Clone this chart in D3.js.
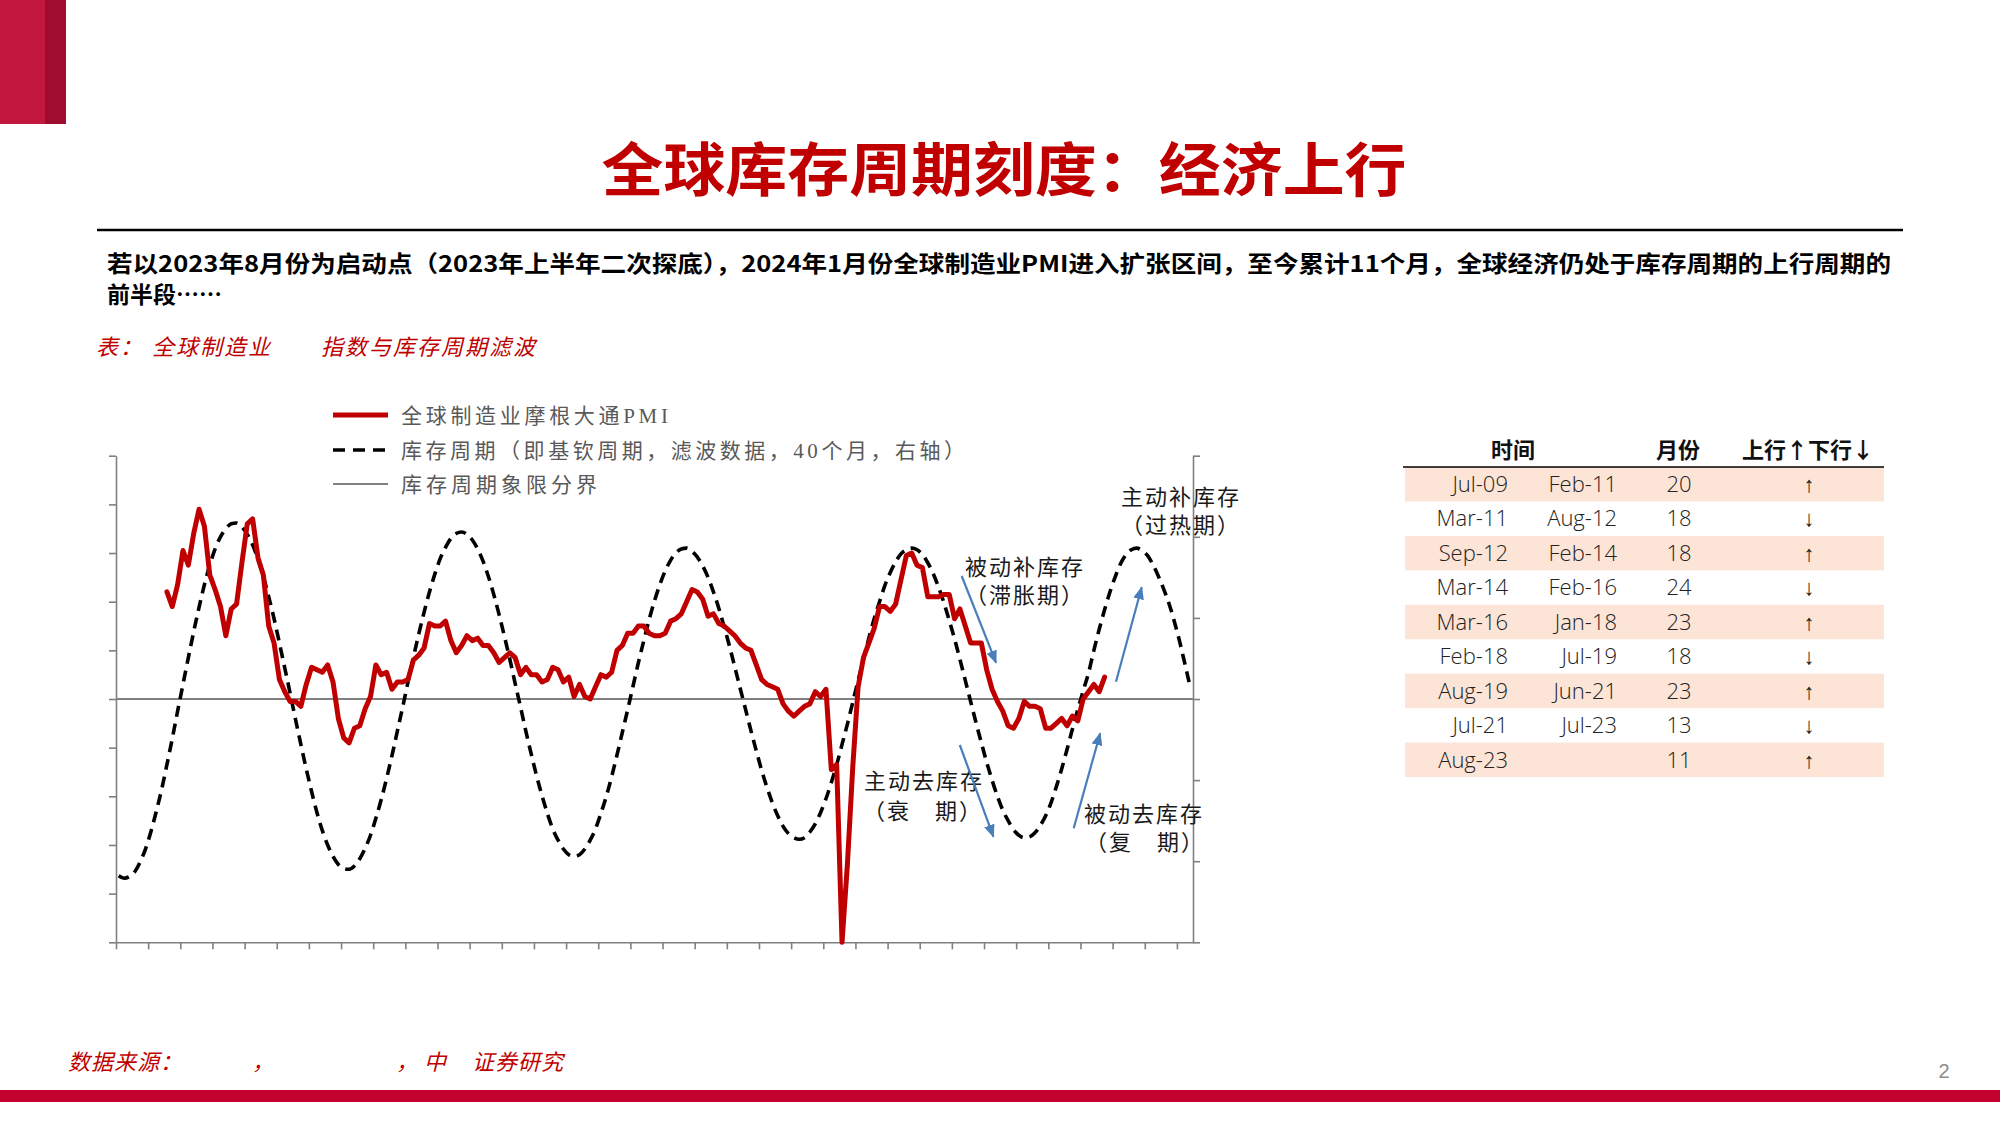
<!DOCTYPE html>
<html><head><meta charset="utf-8">
<script src="https://cdn.jsdelivr.net/npm/d3@7"></script>
<style>body{margin:0;background:#fff;} svg{display:block;}</style>
</head><body>
<svg id="chart" width="2000" height="1125"></svg>
<script>
// ---------------- DATA ----------------
// category axis: monthly, Jan 2009 .. Sep 2025
const firstMonth = new Date(2009, 0, 1);
const lastMonth = new Date(2025, 8, 1);
const months = d3.timeMonth.range(firstMonth, d3.timeMonth.offset(lastMonth, 1));

// J.P. Morgan Global Manufacturing PMI (left axis), monthly from Oct 2009
const pmiStart = new Date(2009, 9, 1);
const pmiValues = [
  54.4, 53.8, 54.7,
  56.1, 55.5, 56.8, 57.8, 57.1, 55.1, 54.5, 53.8, 52.6, 53.7, 53.9, 55.6,
  57.2, 57.4, 55.8, 55.1, 53.0, 52.3, 50.8, 50.3, 49.9, 49.9, 49.7, 50.6,
  51.3, 51.2, 51.1, 51.4, 50.7, 49.2, 48.4, 48.2, 48.8, 48.9, 49.6, 50.1,
  51.4, 51.0, 51.1, 50.4, 50.7, 50.7, 50.8, 51.6, 51.8, 52.1, 53.1, 53.0,
  53.0, 53.2, 52.4, 51.9, 52.2, 52.6, 52.4, 52.5, 52.2, 52.2, 51.9, 51.5,
  51.7, 51.9, 51.7, 51.0, 51.3, 51.0, 51.0, 50.7, 50.8, 51.3, 51.2, 50.7,
  50.9, 50.1, 50.6, 50.1, 50.0, 50.5, 51.0, 50.9, 51.1, 52.0, 52.2, 52.7,
  52.7, 53.0, 53.0, 52.7, 52.6, 52.6, 52.7, 53.2, 53.3, 53.5, 54.0, 54.5,
  54.4, 54.1, 53.4, 53.5, 53.1, 53.0, 52.8, 52.6, 52.3, 52.1, 52.0, 51.4,
  50.8, 50.6, 50.5, 50.4, 49.8, 49.5, 49.3, 49.5, 49.7, 49.8, 50.3, 50.1,
  50.4, 47.1, 47.3, 40.0, 43.2, 47.2, 50.5, 51.7, 52.3, 52.9, 53.8, 53.8,
  53.6, 53.9, 54.9, 55.9, 56.0, 55.5, 55.4, 54.2, 54.2, 54.2, 54.3, 54.3,
  53.3, 53.7, 53.0, 52.3, 52.3, 52.3, 51.2, 50.4, 49.9, 49.5, 48.9, 48.8,
  49.2, 49.9, 49.7, 49.7, 49.6, 48.8, 48.8, 49.0, 49.2, 48.9, 49.3, 49.1,
  50.0, 50.3, 50.6, 50.3, 50.9
];

// Inventory cycle (filtered, 40 months, right axis), monthly from Jan 2009
const cycleValues = [
  -2.18, -2.21, -2.19, -2.13, -2.01, -1.85, -1.64, -1.39, -1.12, -0.81, -0.49, -0.15,
   0.18,  0.51,  0.83,  1.13,  1.41,  1.65,  1.85,  2.00,  2.10,  2.16,  2.17,  2.12,
   2.03,  1.90,  1.72,  1.51,  1.26,  0.99,  0.69,  0.38,  0.07, -0.25, -0.56, -0.86,
  -1.14, -1.40, -1.62, -1.80, -1.94, -2.04, -2.09, -2.10, -2.06, -1.97, -1.84, -1.68,
  -1.47, -1.24, -0.98, -0.70, -0.40, -0.10,  0.21,  0.51,  0.80,  1.07,  1.32,  1.54,
   1.73,  1.87,  1.98,  2.04,  2.06,  2.03,  1.96,  1.85,  1.70,  1.51,  1.29,  1.04,
   0.77,  0.49,  0.19, -0.10, -0.40, -0.68, -0.95, -1.19, -1.41, -1.60, -1.74, -1.85,
  -1.92, -1.94, -1.92, -1.85, -1.74, -1.60, -1.41, -1.20, -0.96, -0.69, -0.41, -0.13,
   0.16,  0.45,  0.72,  0.98,  1.21,  1.41,  1.58,  1.71,  1.80,  1.85,  1.86,  1.82,
   1.75,  1.64,  1.50,  1.32,  1.12,  0.89,  0.65,  0.39,  0.13, -0.13, -0.39, -0.64,
  -0.88, -1.09, -1.28, -1.44, -1.57, -1.66, -1.71, -1.73, -1.71, -1.64, -1.54, -1.40,
  -1.23, -1.03, -0.81, -0.56, -0.31, -0.04,  0.23,  0.49,  0.75,  0.99,  1.20,  1.40,
   1.56,  1.69,  1.79,  1.84,  1.86,  1.84,  1.78,  1.68,  1.55,  1.38,  1.19,  0.97,
   0.74,  0.49,  0.23, -0.03, -0.29, -0.54, -0.78, -1.00, -1.20, -1.37, -1.50, -1.61,
  -1.68, -1.71, -1.70, -1.65, -1.56, -1.44, -1.28, -1.08, -0.86, -0.62, -0.37, -0.13,
   0.10,  0.32,  0.60,  0.86,  1.10,  1.32,  1.51,  1.67,  1.78,  1.84,  1.86,  1.83,
   1.77,  1.66,  1.52,  1.36,  1.18,  0.96,  0.71,  0.43,  0.14
];

// left / right axis tick values
const leftTicks = d3.range(40, 61, 2);
const rightTicks = d3.range(-3, 4, 1);

// table of cycle phases
const phaseStart = ["Jul-09","Mar-11","Sep-12","Mar-14","Mar-16","Feb-18","Aug-19","Jul-21","Aug-23"];
const phaseEnd   = ["Feb-11","Aug-12","Feb-14","Feb-16","Jan-18","Jul-19","Jun-21","Jul-23",""];
const phaseMonths = [20, 18, 18, 24, 23, 18, 23, 13, 11];
const phaseDir   = ["↑","↓","↑","↓","↑","↓","↑","↓","↑"];
const tableHeader = ["时间", "月份", "上行↑下行↓"];

const legendLabels = ["全球制造业摩根大通PMI", "库存周期（即基钦周期，滤波数据，40个月，右轴）", "库存周期象限分界"];

// ---------------- DRAW ----------------
const svg = d3.select("#chart");
const CJK = '"Noto Sans CJK SC", sans-serif';
const SERIF = '"Liberation Serif", "Noto Sans CJK SC", serif';
const RED = "#C00000";

svg.append("rect").attr("width", 2000).attr("height", 1125).attr("fill", "#fff");

// top-left block
svg.append("rect").attr("x", 0).attr("y", 0).attr("width", 45).attr("height", 124).attr("fill", "#C2173F");
svg.append("rect").attr("x", 45).attr("y", 0).attr("width", 21).attr("height", 124).attr("fill", "#9F0D2E");

// title
svg.append("text").attr("x", 1004).attr("y", 191).attr("text-anchor", "middle")
  .attr("font-family", CJK).attr("font-weight", 700).attr("font-size", 58)
  .attr("fill", RED).attr("textLength", 805).attr("lengthAdjust", "spacingAndGlyphs")
  .text("全球库存周期刻度：经济上行");

svg.append("line").attr("x1", 97).attr("x2", 1903).attr("y1", 230).attr("y2", 230)
  .attr("stroke", "#000").attr("stroke-width", 2.5);

// body text
svg.append("text").attr("x", 107).attr("y", 272).attr("font-family", CJK).attr("font-weight", 700)
  .attr("font-size", 23).attr("fill", "#000").attr("textLength", 1784).attr("lengthAdjust", "spacingAndGlyphs")
  .text("若以2023年8月份为启动点（2023年上半年二次探底），2024年1月份全球制造业PMI进入扩张区间，至今累计11个月，全球经济仍处于库存周期的上行周期的");
svg.append("text").attr("x", 107).attr("y", 303).attr("font-family", CJK).attr("font-weight", 700)
  .attr("font-size", 23).attr("fill", "#000").text("前半段……");

// subtitle (red italic)
const sub = svg.append("text").attr("y", 355).attr("font-family", CJK).attr("font-style", "italic")
  .attr("font-size", 22).attr("fill", RED).attr("letter-spacing", 2);
sub.append("tspan").attr("x", 96).text("表：");
sub.append("tspan").attr("x", 152).text("全球制造业");
sub.append("tspan").attr("x", 321).text("指数与库存周期滤波");

// ---------- chart ----------
const x = d3.scaleBand().domain(months.map(d => +d)).range([116, 1193]).paddingInner(0).paddingOuter(0);
const xc = d => x(+d) + x.bandwidth() / 2;
const xTick = d3.scaleLinear().domain([0, months.length]).range([116, 1193]);
const yL = d3.scaleLinear().domain([40, 60]).range([942.3, 455.7]);
const yR = d3.scaleLinear().domain([-3, 3]).range([942.3, 455.7]);

const styleAxis = g => {
  g.selectAll("path, line").attr("stroke", "#808080").attr("stroke-width", 1.6);
};
svg.append("g").attr("transform", "translate(0,942.3)")
  .call(d3.axisBottom(xTick).tickValues(d3.range(0, months.length, 6)).tickSize(7).tickSizeOuter(0).tickFormat(""))
  .call(styleAxis);
svg.append("g").attr("transform", "translate(116,0)")
  .call(d3.axisLeft(yL).tickValues(leftTicks).tickSize(7).tickSizeOuter(0).tickFormat(""))
  .call(styleAxis);
svg.append("g").attr("transform", "translate(1193,0)")
  .call(d3.axisRight(yR).tickValues(rightTicks).tickSize(7).tickSizeOuter(0).tickFormat(""))
  .call(styleAxis);

// quadrant boundary (zero line of cycle)
svg.append("line").attr("x1", 116).attr("x2", 1193).attr("y1", yR(0)).attr("y2", yR(0))
  .attr("stroke", "#808080").attr("stroke-width", 2.2);

// cycle dashed line
const cycleData = cycleValues.map((v, k) => ({ date: months[k], v }));
svg.append("path").datum(cycleData)
  .attr("d", d3.line().x(d => xc(d.date)).y(d => yR(d.v)).curve(d3.curveMonotoneX))
  .attr("fill", "none").attr("stroke", "#000").attr("stroke-width", 3.6)
  .attr("stroke-dasharray", "11,7");

// PMI line
const pmiData = pmiValues.map((v, k) => ({ date: d3.timeMonth.offset(pmiStart, k), v }));
svg.append("path").datum(pmiData)
  .attr("d", d3.line().x(d => xc(d.date)).y(d => yL(d.v)))
  .attr("fill", "none").attr("stroke", RED).attr("stroke-width", 5)
  .attr("stroke-linejoin", "round").attr("stroke-linecap", "round");

// legend
const legend = svg.append("g");
const legY = [415, 450, 484];
const legLen = [267, 564, 196];
legend.append("line").attr("x1", 333).attr("x2", 388).attr("y1", legY[0]).attr("y2", legY[0])
  .attr("stroke", RED).attr("stroke-width", 5);
legend.append("line").attr("x1", 333).attr("x2", 390).attr("y1", legY[1]).attr("y2", legY[1])
  .attr("stroke", "#000").attr("stroke-width", 3.6).attr("stroke-dasharray", "12,8");
legend.append("line").attr("x1", 333).attr("x2", 388).attr("y1", legY[2]).attr("y2", legY[2])
  .attr("stroke", "#808080").attr("stroke-width", 2);
legend.selectAll("text.lg").data(legendLabels).join("text").attr("class", "lg")
  .attr("x", 401).attr("y", (d, i) => legY[i] + 8)
  .attr("font-family", SERIF).attr("font-size", 21)
  .attr("textLength", (d, i) => legLen[i]).attr("lengthAdjust", "spacing")
  .attr("fill", "#595959").text(d => d);

// annotations
const notes = [
  { x: 1181, y: 505, t: "主动补库存" }, { x: 1181, y: 533, t: "（过热期）" },
  { x: 1025, y: 575, t: "被动补库存" }, { x: 1025, y: 603, t: "（滞胀期）" },
  { x: 924, y: 789, t: "主动去库存" }, { x: 923, y: 819, t: "（衰　期）" },
  { x: 1144, y: 822, t: "被动去库存" }, { x: 1145, y: 850, t: "（复　期）" }
];
svg.selectAll("text.note").data(notes).join("text").attr("class", "note")
  .attr("x", d => d.x).attr("y", d => d.y).attr("text-anchor", "middle")
  .attr("font-family", SERIF).attr("font-size", 22).attr("letter-spacing", 2)
  .attr("fill", "#1a1a1a").text(d => d.t);

// blue arrows
const defs = svg.append("defs");
defs.append("marker").attr("id", "ah").attr("viewBox", "0 0 12 10").attr("refX", 11).attr("refY", 5)
  .attr("markerUnits", "userSpaceOnUse").attr("markerWidth", 13).attr("markerHeight", 11).attr("orient", "auto")
  .append("path").attr("d", "M0,0 L12,5 L0,10 Z").attr("fill", "#4A7EBB");
const arrows = [
  [961.7, 576, 996, 662.7],
  [1116, 681.7, 1141.7, 587.3],
  [959.8, 745, 993.4, 836.7],
  [1073.7, 828.3, 1100.2, 733.3]
];
svg.selectAll("line.arr").data(arrows).join("line").attr("class", "arr")
  .attr("x1", d => d[0]).attr("y1", d => d[1]).attr("x2", d => d[2]).attr("y2", d => d[3])
  .attr("stroke", "#4A7EBB").attr("stroke-width", 2.2).attr("marker-end", "url(#ah)");

// ---------- table ----------
const tb = svg.append("g");
const rowTop = 467, rowH = 34.45, tX0 = 1405, tX1 = 1884;
phaseStart.forEach((s, i) => {
  if (i % 2 === 0) {
    tb.append("rect").attr("x", tX0).attr("y", rowTop + i * rowH).attr("width", tX1 - tX0).attr("height", rowH)
      .attr("fill", "#FCE4D6");
  }
});
tb.append("line").attr("x1", 1403).attr("x2", tX1).attr("y1", rowTop).attr("y2", rowTop)
  .attr("stroke", "#000").attr("stroke-width", 1.5);
const hdrX = [1513, 1678, 1808];
tb.selectAll("text.hd").data(tableHeader).join("text").attr("class", "hd")
  .attr("x", (d, i) => hdrX[i]).attr("y", 458).attr("text-anchor", "middle")
  .attr("font-family", CJK).attr("font-weight", 700).attr("font-size", 22).attr("fill", "#111")
  .text(d => d);
const cellFont = '"Open Sans", "Noto Sans", sans-serif';
const rowBase = i => rowTop + i * rowH + 25;
tb.selectAll("text.c1").data(phaseStart).join("text").attr("class", "c1")
  .attr("x", 1508).attr("y", (d, i) => rowBase(i)).attr("text-anchor", "end")
  .attr("font-family", cellFont).attr("font-weight", 300).attr("font-size", 22).attr("fill", "#222").text(d => d);
tb.selectAll("text.c2").data(phaseEnd).join("text").attr("class", "c2")
  .attr("x", 1617).attr("y", (d, i) => rowBase(i)).attr("text-anchor", "end")
  .attr("font-family", cellFont).attr("font-weight", 300).attr("font-size", 22).attr("fill", "#222").text(d => d);
tb.selectAll("text.c3").data(phaseMonths).join("text").attr("class", "c3")
  .attr("x", 1679).attr("y", (d, i) => rowBase(i)).attr("text-anchor", "middle")
  .attr("font-family", cellFont).attr("font-weight", 300).attr("font-size", 22).attr("fill", "#222").text(d => d);
tb.selectAll("text.c4").data(phaseDir).join("text").attr("class", "c4")
  .attr("x", 1809).attr("y", (d, i) => rowBase(i)).attr("text-anchor", "middle")
  .attr("font-family", cellFont).attr("font-weight", 400).attr("font-size", 22).attr("fill", "#222").text(d => d);

// ---------- footer ----------
const ft = svg.append("text").attr("y", 1070).attr("font-family", CJK).attr("font-style", "italic")
  .attr("font-size", 22).attr("fill", RED).attr("letter-spacing", 1);
ft.append("tspan").attr("x", 68).text("数据来源：");
ft.append("tspan").attr("x", 252).text("，");
ft.append("tspan").attr("x", 396).text("，");
ft.append("tspan").attr("x", 424).text("中");
ft.append("tspan").attr("x", 472).text("证券研究");

svg.append("text").attr("x", 1944).attr("y", 1078).attr("text-anchor", "middle")
  .attr("font-family", '"Liberation Sans", sans-serif').attr("font-size", 20).attr("fill", "#8c8c8c").text("2");

svg.append("rect").attr("x", 0).attr("y", 1090).attr("width", 2000).attr("height", 12).attr("fill", "#C4002F");
</script>
</body></html>
